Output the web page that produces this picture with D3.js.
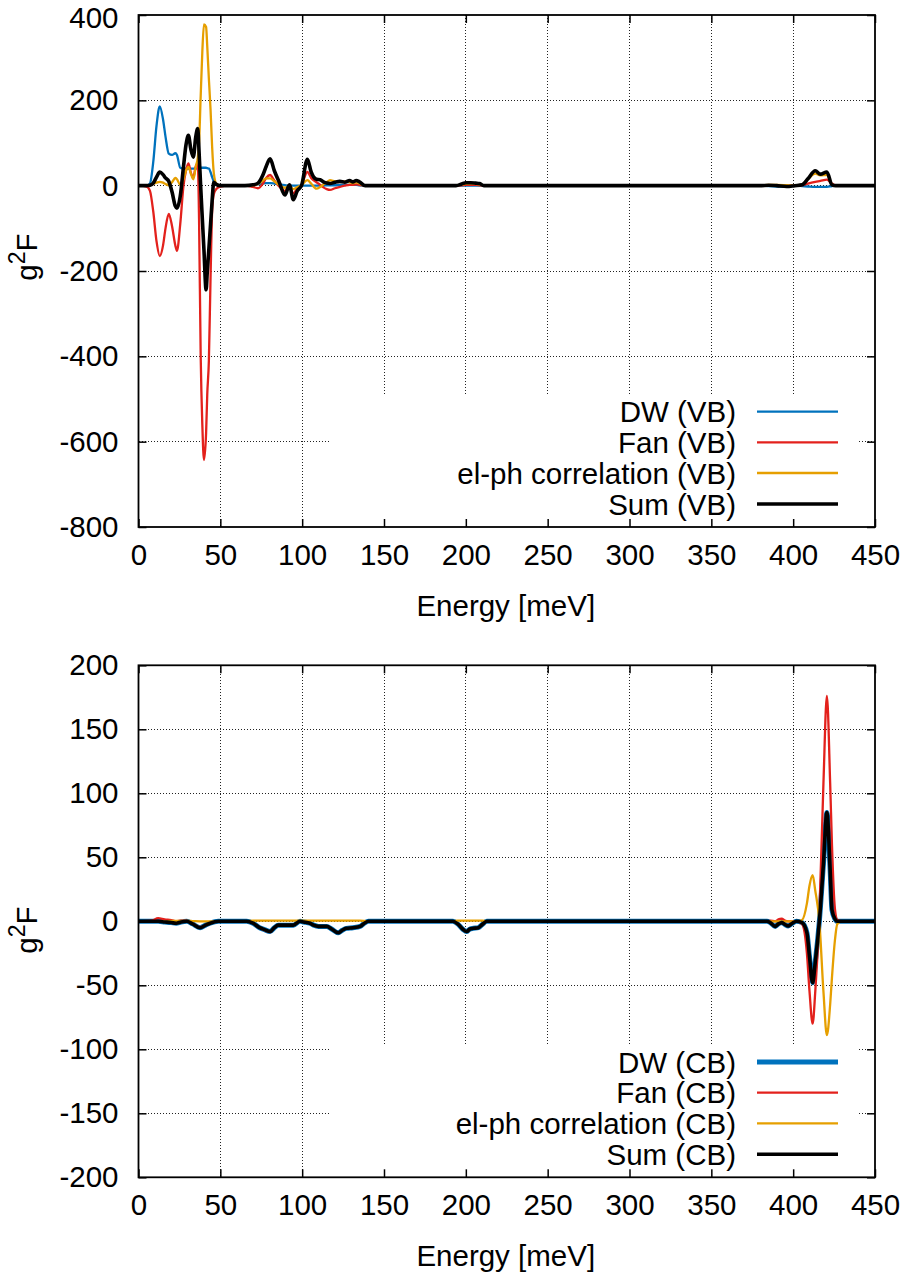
<!DOCTYPE html>
<html>
<head>
<meta charset="utf-8">
<script src="https://cdn.jsdelivr.net/npm/d3@7"></script>
<style>
  html, body { margin: 0; padding: 0; background: #fff; }
  svg { display: block; }
  text { font-family: "Liberation Sans", Arial, Helvetica, sans-serif; fill: #000; }
</style>
</head>
<body>
<svg id="chart" width="909" height="1277"></svg>
<script>
// ---- Valence band (VB) spectral functions, energy in meV ----
const vbEnergy = [0, 5, 7, 9, 11, 13, 15, 16.5, 18.5, 20.5, 22.5, 23.5, 25.5, 27.5, 29, 30.5, 32, 33.5, 35, 36.2, 37, 38, 39, 40, 41.3, 42, 43, 44, 45, 46, 47.5, 50, 55, 65, 70, 73, 76, 78, 80.4, 83, 86, 89.5, 92.2, 94.6, 97, 99.6, 103.2, 105.5, 108.7, 111, 113, 115, 117, 120, 123, 126, 129, 131, 133, 135, 138.5, 145, 194, 197.5, 200, 203, 206, 208.5, 211, 380, 385, 390, 396, 401, 405.5, 409, 413.5, 416.6, 420.6, 423.7, 426, 450];
const vbDW   = [0, 0, 5, 55, 140, 186, 155, 115, 75, 72, 76, 72, 42, 40, 40, 40, 40, 40, 40, 41, 41, 42, 42, 42, 42, 41, 40, 32, 20, 10, 3, 0, 0, 0, 1, 3, 5, 6, 6, 5, 3, 1, 0, 0, 0, 0, 0, 0, 0, 0, 0, 1, 1, 1, 2, 2, 2, 2, 2, 1, 0, 0, 0, 0, 0, 0, 0, 0, 0, 0, -1, -2, -3, 0, -1, -2, -3, -3, -3, -1, 0, 0];
const vbFan  = [0, -2, -12, -60, -130, -165, -140, -100, -66, -95, -140, -153, -90, 0, 35, 52, 30, 20, 45, 52, -80, -400, -560, -643, -580, -490, -410, -220, -60, -20, -8, -2, 0, 0, -3, -6, 5, 18, 25, 12, -2, -12, -2, -18, -6, 2, 32, 18, 8, 2, -4, -8, -10, -6, -3, 0, 2, 2, 3, 2, 0, 0, 0, 1, 2, 2, 2, 1, 0, 0, 0, 0, 0, 0, 1, 5, 9, 11, 14, 5, 0, 0];
const vbElph = [0, 0, 1, 4, 7, 9, 7, 4, 1, 8, 18, 15, 2, 15, 35, 44, 28, 15, 45, 65, 100, 210, 314, 378, 372, 327, 250, 180, 90, 30, 5, 0, 0, 0, 1, 4, 12, 17, 17, 10, 2, -5, 0, -8, -3, 1, 13, 5, -7, -3, 3, 8, 13, 10, 9, 10, 8, 6, 8, 5, 0, 0, 0, 3, 4, 5, 4, 3, 0, 0, 2, 2, 1, 0, 3, 15, 28, 24, 25, 3, 0, 0];
const vbSum  = [0, 0, 1, 6, 20, 32, 26, 18, 10, -15, -48, -53, -25, 45, 95, 118, 85, 67, 115, 134, 80, -3, -78, -151, -244, -204, -148, -92, -34, 8, 3, 0, 0, 0, 2, 6, 25, 45, 63, 35, 8, -22, 2, -33, -12, 0, 62, 32, 15, 14, 9, 6, 5, 8, 10, 8, 12, 9, 12, 9, 0, 0, 0, 4, 7, 7, 6, 5, 0, 0, 1, 0, -2, 0, 2, 16, 35, 27, 32, 2, 0, 0];

// ---- Conduction band (CB) spectral functions, energy in meV ----
const cbEnergy = [0, 8, 12, 16, 20, 23, 26, 29.5, 33, 37.6, 41, 43.7, 48.8, 66, 70, 74, 77, 80.4, 83, 85.4, 90, 94.6, 98.7, 101, 104.8, 107, 110, 115, 118, 122, 124.5, 127, 131, 135.4, 138, 140.5, 192, 195, 198, 200.6, 202.5, 204.6, 207.7, 210, 212.8, 384, 386, 389, 391, 393, 395, 397, 399.5, 402, 405.4, 408.4, 410, 411.9, 413.5, 416, 418.5, 420.6, 422.6, 423.7, 425.5, 427, 430, 450];
const cbDW   = [0, 0, 0, -0.5, -1, -1.5, -0.5, 0, -2, -5, -3, -1.5, 0, 0, -1.5, -5, -6.5, -8, -5, -3, -3, -3, 0, -0.5, -1.5, -3, -4, -4, -6, -9, -7, -5.5, -5, -4, -1.5, 0, 0, -2, -6, -8, -6, -5.5, -5, -2.5, 0, 0, -1, -4, -2, -1, -2.5, -3.6, -1.5, 0, -1, -9, -28, -48, -32, 0, 45, 85, 40, 9, 2, 0, 0, 0];
const cbFan  = [0, 0.5, 2.5, 1.5, 1, 0, 0.5, 0.5, -1.5, -4.5, -3, -1.5, 0, 0, -1.5, -5, -7, -8.5, -5, -3, -3, -3, 0, -0.5, -1.5, -3, -4, -4, -6, -9, -7, -5.5, -5, -4, -1.5, 0, 0, -2, -6, -8, -6, -5.5, -5, -2.5, 0, 0, 0.5, 0, 1.5, 2, 0.5, 0, 0, 0, -2, -25, -55, -80, -55, 5, 108, 176, 108, 60, 10, 1, 0, 0];
const cbElph = [0, 0, 0, 0, 0.3, 0.3, 0.3, 0.3, 0.2, 0, 0, 0, 0, 0, 0.5, 0.5, 0.5, 0.5, 0.5, 0.5, 0.5, 0.5, 0.5, 0.5, 0.5, 0.5, 0.5, 0.5, 0.5, 0.5, 0.5, 0.5, 0.5, 0.5, 0.3, 0, 0, 0.5, 0.5, 0.5, 0.5, 0.5, 0.5, 0.5, 0, 0, 0, 0, 0, 0, 0, 0, 0, 0, 1, 14, 28, 36, 24, 0, -55, -89, -65, -44, -15, -2, 0, 0];
const cbSum  = [0, 0, 0, -0.5, -1, -1.5, -0.5, 0, -2, -5, -3, -1.5, 0, 0, -1.5, -5, -6.5, -8, -5, -3, -3, -3, 0, -0.5, -1.5, -3, -4, -4, -6, -9, -7, -5.5, -5, -4, -1.5, 0, 0, -2, -6, -8, -6, -5.5, -5, -2.5, 0, 0, -1, -4, -2, -1, -2.5, -3.6, -1.5, 0, -1, -9, -28, -48, -32, 0, 45, 85, 40, 9, 2, 0, 0, 0];

// ---- Axis ticks ----
const xTicks   = [0, 50, 100, 150, 200, 250, 300, 350, 400, 450];
const vbYTicks = [-800, -600, -400, -200, 0, 200, 400];
const cbYTicks = [-200, -150, -100, -50, 0, 50, 100, 150, 200];

const vbLabels = ["DW (VB)", "Fan (VB)", "el-ph correlation (VB)", "Sum (VB)"];
const cbLabels = ["DW (CB)", "Fan (CB)", "el-ph correlation (CB)", "Sum (CB)"];

const colors = { dw: "#0072bd", fan: "#e3211c", elph: "#e69f00", sum: "#000000" };
const FONT = 29.5;

const svg = d3.select("#chart");
svg.append("rect").attr("width", 909).attr("height", 1277).attr("fill", "#fff");

function drawPanel(cfg) {
  const left = 138.5, right = 875;
  const x = d3.scaleLinear().domain([0, 450]).range([left, right]);
  const y = d3.scaleLinear().domain(cfg.yDomain).range([cfg.bottom, cfg.top]);
  const g = svg.append("g");

  // dotted grid
  const grid = g.append("g").attr("stroke", "#222").attr("stroke-width", 1)
    .attr("stroke-dasharray", "1,2").attr("fill", "none");
  xTicks.filter(t => t > 0 && t < 450).forEach(t => {
    grid.append("line").attr("x1", x(t)).attr("x2", x(t))
      .attr("y1", cfg.top).attr("y2", cfg.bottom).attr("shape-rendering", "crispEdges");
  });
  cfg.yTicks.filter(t => t > cfg.yDomain[0] && t < cfg.yDomain[1]).forEach(t => {
    grid.append("line").attr("x1", left).attr("x2", right)
      .attr("y1", y(t)).attr("y2", y(t)).attr("shape-rendering", "crispEdges");
  });

  // opaque key background
  const keyTop = cfg.bottom - 132;
  g.append("rect").attr("x", 329).attr("y", keyTop)
    .attr("width", 857 - 329).attr("height", cfg.bottom - keyTop).attr("fill", "#fff");

  // curves
  const plotClip = "clip" + cfg.id;
  svg.append("clipPath").attr("id", plotClip).append("rect")
    .attr("x", left).attr("y", cfg.top).attr("width", right - left).attr("height", cfg.bottom - cfg.top);
  const curves = g.append("g").attr("clip-path", `url(#${plotClip})`);
  const series = [
    { vals: cfg.dw,   color: colors.dw,   w: cfg.dwWidth },
    { vals: cfg.fan,  color: colors.fan,  w: 2.3 },
    { vals: cfg.elph, color: colors.elph, w: 2.3 },
    { vals: cfg.sum,  color: colors.sum,  w: 3.6 }
  ];
  series.forEach(s => {
    const line = d3.line()
      .x((d, i) => x(cfg.energy[i]))
      .y(d => y(d))
      .curve(d3.curveMonotoneX);
    curves.append("path").datum(s.vals).attr("d", line)
      .attr("fill", "none").attr("stroke", s.color).attr("stroke-width", s.w)
      .attr("stroke-linejoin", "round");
  });

  // axes with inward ticks on all four sides
  const fmt = d => String(d);
  const axL = g.append("g").attr("transform", `translate(${left},0)`)
    .call(d3.axisLeft(y).tickValues(cfg.yTicks).tickSize(-8).tickSizeOuter(0).tickPadding(20).tickFormat(fmt));
  const axR = g.append("g").attr("transform", `translate(${right},0)`)
    .call(d3.axisRight(y).tickValues(cfg.yTicks).tickSize(-8).tickSizeOuter(0).tickFormat(""));
  const axB = g.append("g").attr("transform", `translate(0,${cfg.bottom})`)
    .call(d3.axisBottom(x).tickValues(xTicks).tickSize(-8).tickSizeOuter(0).tickPadding(17).tickFormat(fmt));
  const axT = g.append("g").attr("transform", `translate(0,${cfg.top})`)
    .call(d3.axisTop(x).tickValues(xTicks).tickSize(-8).tickSizeOuter(0).tickFormat(""));
  [axL, axR, axB, axT].forEach(a => {
    a.select(".domain").remove();
    a.selectAll(".tick line").attr("stroke", "#000").attr("stroke-width", 1.5);
    a.selectAll(".tick text").attr("font-size", FONT)
      .attr("font-family", '"Liberation Sans", Arial, Helvetica, sans-serif').attr("fill", "#000");
  });
  // keep the topmost y label fully inside the page
  if (cfg.top < 20) {
    axL.selectAll(".tick text").filter(d => d === cfg.yDomain[1]).attr("dy", "0.42em");
  }

  // border
  g.append("rect").attr("x", left).attr("y", cfg.top)
    .attr("width", right - left).attr("height", cfg.bottom - cfg.top)
    .attr("fill", "none").attr("stroke", "#000").attr("stroke-width", 1.8);

  // axis titles
  g.append("text").attr("x", (left + right) / 2 - 1).attr("y", cfg.bottom + 89)
    .attr("text-anchor", "middle").attr("font-size", FONT).text("Energy [meV]");
  const yl = g.append("text")
    .attr("transform", `translate(37,${cfg.yLabelY}) rotate(-90)`)
    .attr("text-anchor", "middle").attr("font-size", FONT);
  yl.append("tspan").text("g");
  yl.append("tspan").attr("font-size", 23).attr("dy", -12).text("2");
  yl.append("tspan").attr("dy", 12).text("F");

  // key
  const rowOffsets = [115.3, 84.7, 54, 23];
  const keyColors = [colors.dw, colors.fan, colors.elph, colors.sum];
  const keyWidths = [cfg.dwWidth, 2.3, 2.3, 3.6];
  cfg.labels.forEach((lab, i) => {
    const ry = cfg.bottom - rowOffsets[i];
    g.append("text").attr("x", 736).attr("y", ry + 10.5)
      .attr("text-anchor", "end").attr("font-size", FONT).text(lab);
    g.append("line").attr("x1", 757).attr("x2", 838).attr("y1", ry).attr("y2", ry)
      .attr("stroke", keyColors[i]).attr("stroke-width", keyWidths[i]);
  });
}

drawPanel({
  id: "vb", top: 15, bottom: 527, yDomain: [-800, 400], yTicks: vbYTicks,
  energy: vbEnergy, dw: vbDW, fan: vbFan, elph: vbElph, sum: vbSum,
  dwWidth: 2.3, labels: vbLabels, yLabelY: 257
});
drawPanel({
  id: "cb", top: 665.3, bottom: 1177.3, yDomain: [-200, 200], yTicks: cbYTicks,
  energy: cbEnergy, dw: cbDW, fan: cbFan, elph: cbElph, sum: cbSum,
  dwWidth: 5, labels: cbLabels, yLabelY: 930
});
</script>
</body>
</html>
